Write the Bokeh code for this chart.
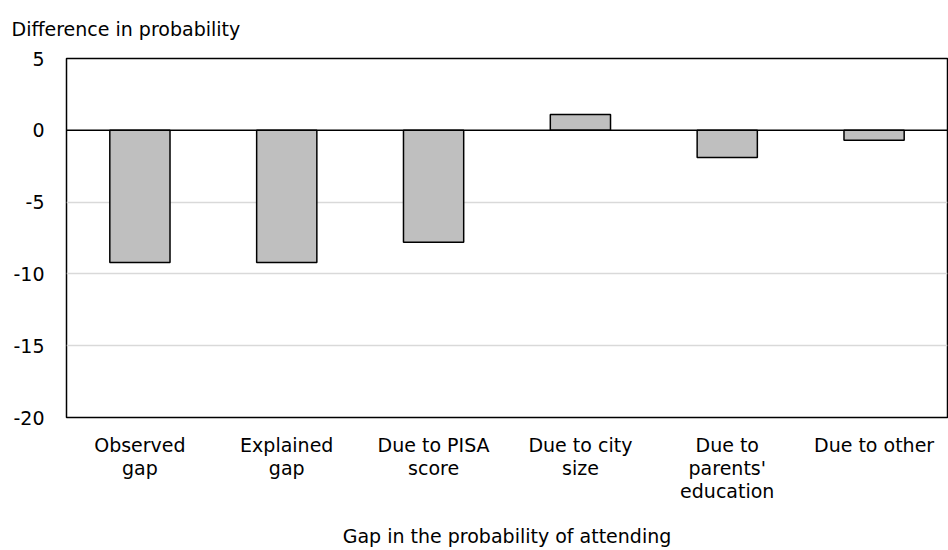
from bokeh.plotting import figure
from bokeh.models import Range1d, FactorRange, FixedTicker, Span, Title, ColumnDataSource
from bokeh.embed import file_html
from bokeh.resources import INLINE

categories = ["Observed\ngap", "Explained\ngap", "Due to PISA\nscore",
              "Due to city\nsize", "Due to\nparents'\neducation", "Due to other"]
values = [-9.2, -9.2, -7.8, 1.1, -1.9, -0.7]
y_ticks = [-20, -15, -10, -5, 0, 5]
y_tick_labels = ["-20", "-15", "-10", "-5", "0", "5"]
y_title = "Difference in probability"
x_title = "Gap in the probability of attending"

FONT = "DejaVu Sans"
FS = "19px"

src = ColumnDataSource(dict(cat=categories, val=values))

p = figure(width=948, height=550, x_range=FactorRange(*categories, range_padding=0),
           y_range=Range1d(y_ticks[0], y_ticks[-1]), output_backend="svg",
           toolbar_location=None,
           min_border_left=66, min_border_right=1, min_border_top=58, min_border_bottom=133)

p.vbar(x="cat", top="val", bottom=0, width=0.41, source=src,
       fill_color="#bfbfbf", line_color="black", line_width=1.5)

p.add_layout(Span(location=0, dimension="width", line_color="black", line_width=1.5))

p.outline_line_color = "black"
p.outline_line_width = 1.5

p.xgrid.grid_line_color = None
p.ygrid.ticker = FixedTicker(ticks=[-15, -10, -5])
p.ygrid.grid_line_color = "#d9d9d9"
p.ygrid.grid_line_width = 1.5

p.yaxis.ticker = FixedTicker(ticks=y_ticks)
p.yaxis.major_label_overrides = dict(zip(y_ticks, y_tick_labels))
for ax in (p.xaxis, p.yaxis):
    ax.axis_line_color = None
    ax.major_tick_line_color = None
    ax.minor_tick_line_color = None
    ax.major_label_text_font = FONT
    ax.major_label_text_font_size = FS
    ax.major_label_text_color = "black"
p.yaxis.major_label_standoff = 16
p.xaxis.major_label_standoff = 10
p.xaxis.major_label_text_line_height = 1.05
p.xaxis.axis_label = x_title
p.xaxis.axis_label_text_font = FONT
p.xaxis.axis_label_text_font_size = FS
p.xaxis.axis_label_text_font_style = "normal"
p.xaxis.axis_label_text_color = "black"
p.xaxis.axis_label_standoff = 20

p.add_layout(Title(text=y_title, align="left", offset=-55, vertical_align="top",
                   text_font=FONT, text_font_size=FS, text_font_style="normal",
                   text_color="black", standoff=34), "above")

open("out.html", "w").write(file_html(p, INLINE))
